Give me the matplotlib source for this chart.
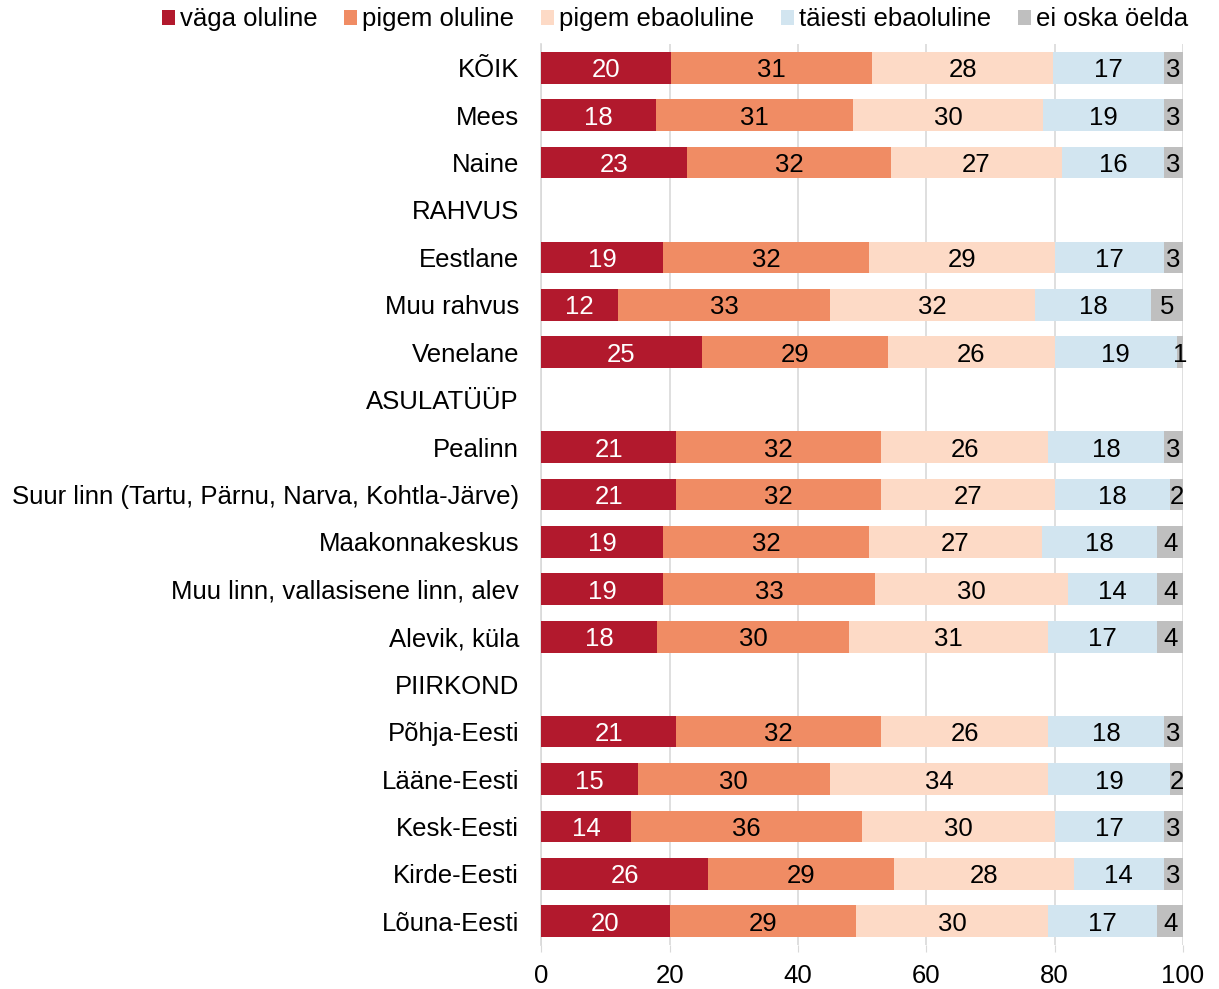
import numpy as np
import matplotlib.pyplot as plt

plt.rcParams['font.family'] = ['Liberation Sans', 'DejaVu Sans']

# rows, top to bottom; None marks a group heading
rows = ['KÕIK', 'Mees', 'Naine', 'RAHVUS', 'Eestlane', 'Muu rahvus', 'Venelane',
        'ASULATÜÜP', 'Pealinn', 'Suur linn (Tartu, Pärnu, Narva, Kohtla-Järve)',
        'Maakonnakeskus', 'Muu linn, vallasisene linn, alev', 'Alevik, küla',
        'PIIRKOND', 'Põhja-Eesti', 'Lääne-Eesti', 'Kesk-Eesti', 'Kirde-Eesti', 'Lõuna-Eesti']

vaga =   [20, 18, 23, None, 19, 12, 25, None, 21, 21, 19, 19, 18, None, 21, 15, 14, 26, 20]
pigem =  [31, 31, 32, None, 32, 33, 29, None, 32, 32, 32, 33, 30, None, 32, 30, 36, 29, 29]
pebao =  [28, 30, 27, None, 29, 32, 26, None, 26, 27, 27, 30, 31, None, 26, 34, 30, 28, 30]
taiesti = [17, 19, 16, None, 17, 18, 19, None, 18, 18, 18, 14, 17, None, 18, 19, 17, 14, 17]
eioska = [3, 3, 3, None, 3, 5, 1, None, 3, 2, 4, 4, 4, None, 3, 2, 3, 3, 4]

series = ['väga oluline', 'pigem oluline', 'pigem ebaoluline', 'täiesti ebaoluline', 'ei oska öelda']
colors = ['#B2192D', '#F08C64', '#FDDAC6', '#D2E5F0', '#BFBFBF']
txtcol = ['white', 'black', 'black', 'black', 'black']

data = [vaga, pigem, pebao, taiesti, eioska]
FS = 18.5

fig = plt.figure(figsize=(12.19, 9.89), dpi=100)
ax = fig.add_axes([0.444, 0.0445, 0.5265, 0.911])

y = np.arange(len(rows))
left = np.zeros(len(rows))
totals = np.array([sum(d[i] for d in data) if vaga[i] is not None else 0 for i in range(len(rows))], float)

for k, d in enumerate(data):
    vals = np.array([v if v is not None else 0 for v in d], float)
    w = np.where(totals > 0, vals / np.where(totals > 0, totals, 1) * 100, 0)
    ax.barh(y, w, left=left, height=0.67, color=colors[k], label=series[k], zorder=3)
    for i in range(len(rows)):
        if d[i] is None:
            continue
        ax.text(left[i] + w[i] / 2, y[i], str(d[i]), ha='center', va='center_baseline',
                color=txtcol[k], fontsize=FS, zorder=4)
    left += w

ax.set_yticks(y)
ax.set_yticklabels(rows, fontsize=FS)
ax.set_ylim(len(rows) - 0.5, -0.5)
ax.set_xlim(0, 100)
ax.set_xticks([0, 20, 40, 60, 80, 100])
ax.tick_params(axis='x', labelsize=FS, length=5, color='#D9D9D9', pad=9)
ax.tick_params(axis='y', length=0, pad=16)
ax.grid(axis='x', color='#D9D9D9', linewidth=1.2, zorder=0)
for s in ['top', 'right', 'bottom']:
    ax.spines[s].set_visible(False)
ax.spines['left'].set_color('#D9D9D9')
ax.spines['left'].set_linewidth(1.2)

fig.legend(loc='upper right', bbox_to_anchor=(0.994, 1.016), ncol=5, frameon=False,
           fontsize=FS, handlelength=0.5, handleheight=0.5, handletextpad=0.2,
           columnspacing=1.05)

fig.savefig('out.png', dpi=100)
